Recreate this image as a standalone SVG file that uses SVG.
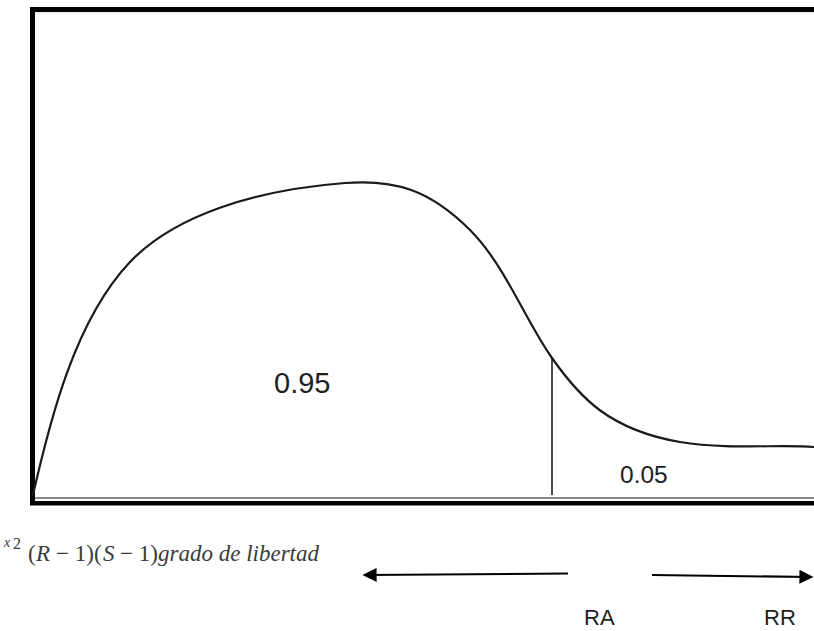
<svg xmlns="http://www.w3.org/2000/svg" width="814" height="631" viewBox="0 0 814 631">
<style>
.curve{fill:none;stroke:#1a1a1a;stroke-width:2.2;stroke-linecap:round}
.lbl{font-family:"Liberation Sans",Arial,sans-serif;fill:#1e1e1e}
.formula{font-family:"Liberation Serif","DejaVu Serif",serif;fill:#3a3a3a;font-size:23px}
.it{font-style:italic}
.arrow{stroke:#000;stroke-width:2;fill:none}
</style>
<defs>
<marker id="ah" viewBox="0 0 10 10" refX="9" refY="5" markerWidth="7" markerHeight="7" markerUnits="strokeWidth" orient="auto">
<path d="M0,0 L10,5 L0,10 z" fill="#000"/>
</marker>
</defs>
<rect width="814" height="631" fill="#fff"/>
<g id="frame">
<rect x="30" y="7" width="784" height="5" fill="#000"/>
<line x1="35" y1="13" x2="814" y2="13" stroke="#ddd" stroke-width="1"/>
<rect x="30" y="7" width="5" height="498" fill="#000"/>
<line x1="35" y1="498" x2="814" y2="498" stroke="#888" stroke-width="2"/>
<rect x="30" y="501" width="784" height="4.5" fill="#000"/>
</g>
<g id="curve">
<path class="curve" d="M33,495 C50,420 75,320 130,262 C175,215 255,190 345,183 C395,179 430,190 470,230 C505,265 525,320 552,358 C580,398 610,430 680,442 C730,450 780,444 814,447"/>
</g>
<g id="cutoff">
<line x1="552" y1="358" x2="552" y2="495" stroke="#111" stroke-width="1.5"/>
</g>
<g id="labels">
<text class="lbl" x="274" y="393" font-size="29">0.95</text>
<text class="lbl" x="620" y="483" font-size="24.5">0.05</text>
</g>
<g id="formula">
<text class="formula it" x="4" y="547" style="font-size:14px">x</text>
<text class="formula" x="13" y="549" style="font-size:16px">2</text>
<text class="formula" x="28" y="561">(</text>
<text class="formula it" x="36" y="561">R</text>
<text class="formula" x="56" y="561">− 1)(</text>
<text class="formula it" x="103" y="561">S</text>
<text class="formula" x="120" y="561">− 1)</text>
<text class="formula it" x="158" y="561">grado de libertad</text>
</g>
<g id="connectors">
<line class="arrow" x1="568" y1="573.5" x2="364" y2="575" marker-end="url(#ah)"/>
<line class="arrow" x1="652" y1="575" x2="812" y2="577" marker-end="url(#ah)"/>
</g>
<g id="regions">
<text class="lbl" x="584" y="625" font-size="22" fill="#111">RA</text>
<text class="lbl" x="764" y="625" font-size="22" fill="#111">RR</text>
</g>
</svg>
